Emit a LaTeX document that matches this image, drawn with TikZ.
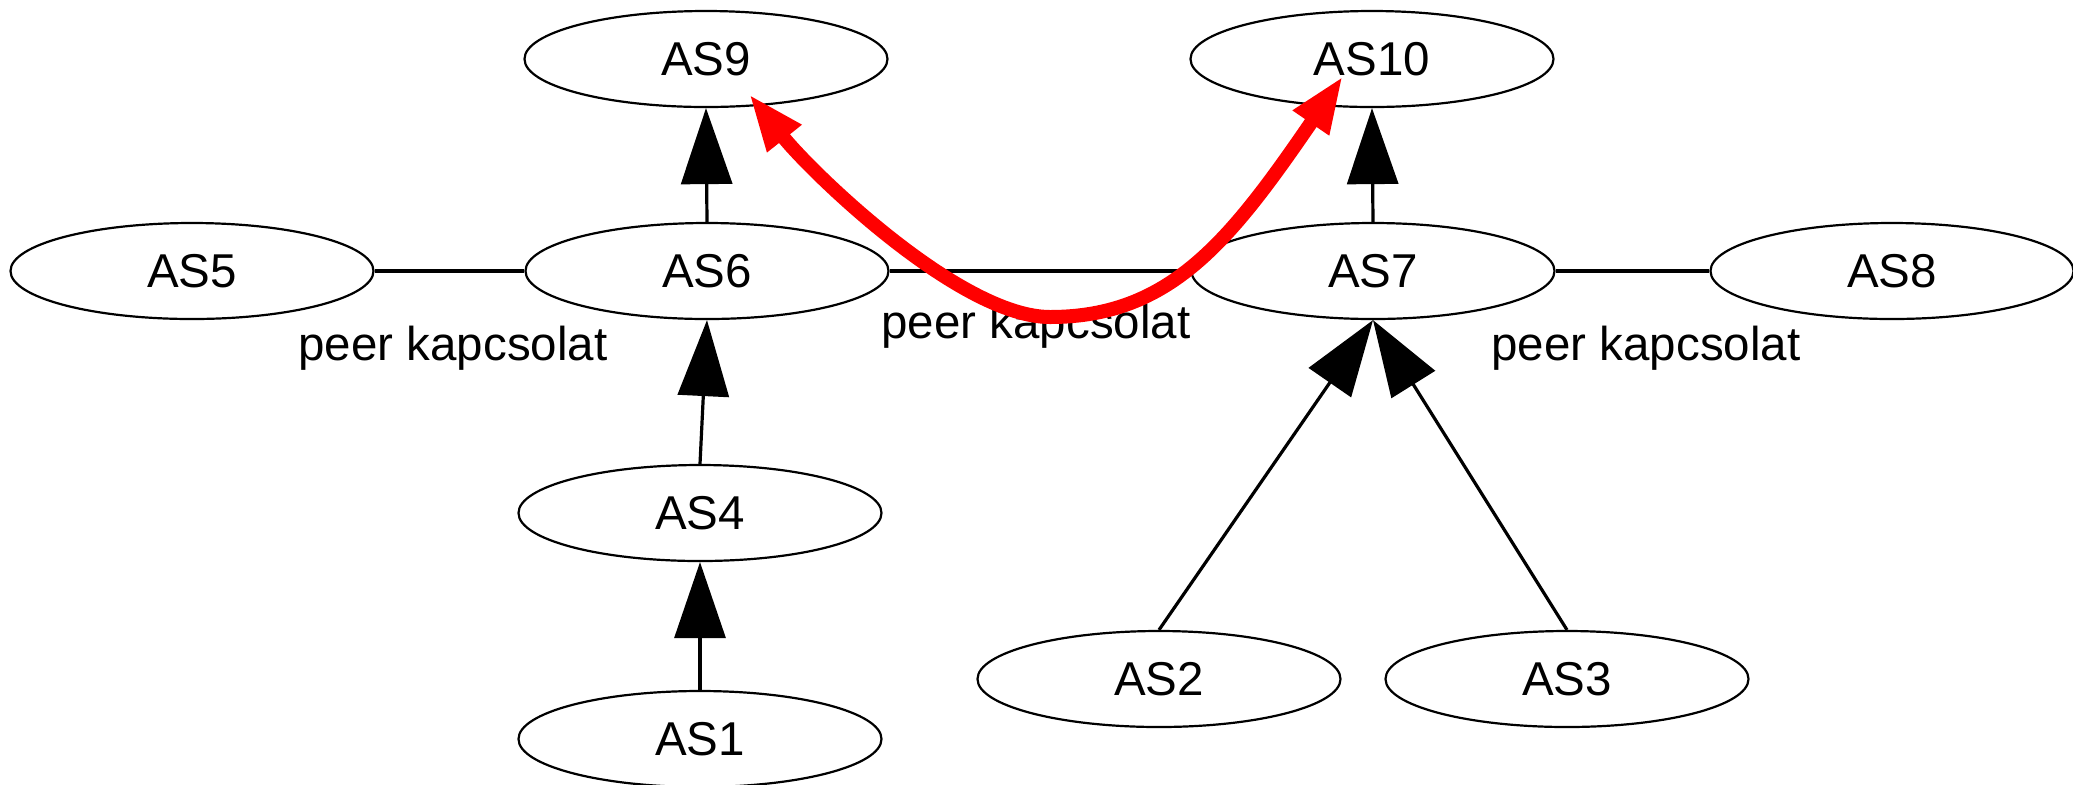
\documentclass[tikz,border=0pt]{standalone}
\usepackage{fontspec}
\setmainfont{Liberation Sans}
\usetikzlibrary{shapes.geometric,arrows.meta}
\tikzset{
  asnode/.style={ellipse, draw=black, line width=1.1pt, minimum width=181.5pt, minimum height=48pt, inner sep=0pt, font=\fontsize{23.75}{28}\selectfont},
  lbl/.style={inner sep=0pt, anchor=base, font=\fontsize{23.75}{28}\selectfont},
  peer/.style={line width=2.3pt},
  prov/.style={line width=1.6pt, -{Triangle[length=38pt,width=25.5pt]}},
  route/.style={red, line width=7pt, {Triangle[length=28.5pt,width=20pt]}-{Triangle[length=28.5pt,width=20pt]}}
}
\begin{document}
\begin{tikzpicture}[x=0.5pt,y=-0.5pt]
\useasboundingbox (0,0) rectangle (2073,784);
\node[asnode] (AS9)  at (706,59)   {AS9};
\node[asnode] (AS10) at (1372,59)  {AS10};
\node[asnode] (AS5)  at (192,271)  {AS5};
\node[asnode] (AS6)  at (707,271)  {AS6};
\node[asnode] (AS7)  at (1373,271) {AS7};
\node[asnode] (AS8)  at (1892,271) {AS8};
\node[asnode] (AS4)  at (700,513)  {AS4};
\node[asnode] (AS2)  at (1159,679) {AS2};
\node[asnode] (AS3)  at (1567,679) {AS3};
\node[asnode] (AS1)  at (700,739)  {AS1};

\draw[peer] (AS5.east) -- (AS6.west);
\draw[peer] (AS6.east) -- (AS7.west);
\draw[peer] (AS7.east) -- (AS8.west);

\node[lbl] (L1) at (453,360)  {peer kapcsolat};
\node[lbl] (L2) at (1036,338) {peer kapcsolat};
\node[lbl] (L3) at (1646,360) {peer kapcsolat};

\draw[prov] (AS6.north) -- (AS9.south);
\draw[prov] (AS7.north) -- (AS10.south);
\draw[prov] (AS4.north) -- (AS6.south);
\draw[prov] (AS1.north) -- (AS4.south);
\draw[prov] (AS2.north) -- (AS7.south);
\draw[prov] (AS3.north) -- (AS7.south);

\coordinate (r1) at ([shift={(43,35)}]AS9.center);
\coordinate (r2) at ([shift={(-29,17)}]AS10.center);
\coordinate (rm) at (1050,317);
\draw[route] (r1) .. controls (811,172) and (960,317) .. (rm)
                  .. controls (1170,317) and (1230,241) .. (r2);
\end{tikzpicture}
\end{document}
